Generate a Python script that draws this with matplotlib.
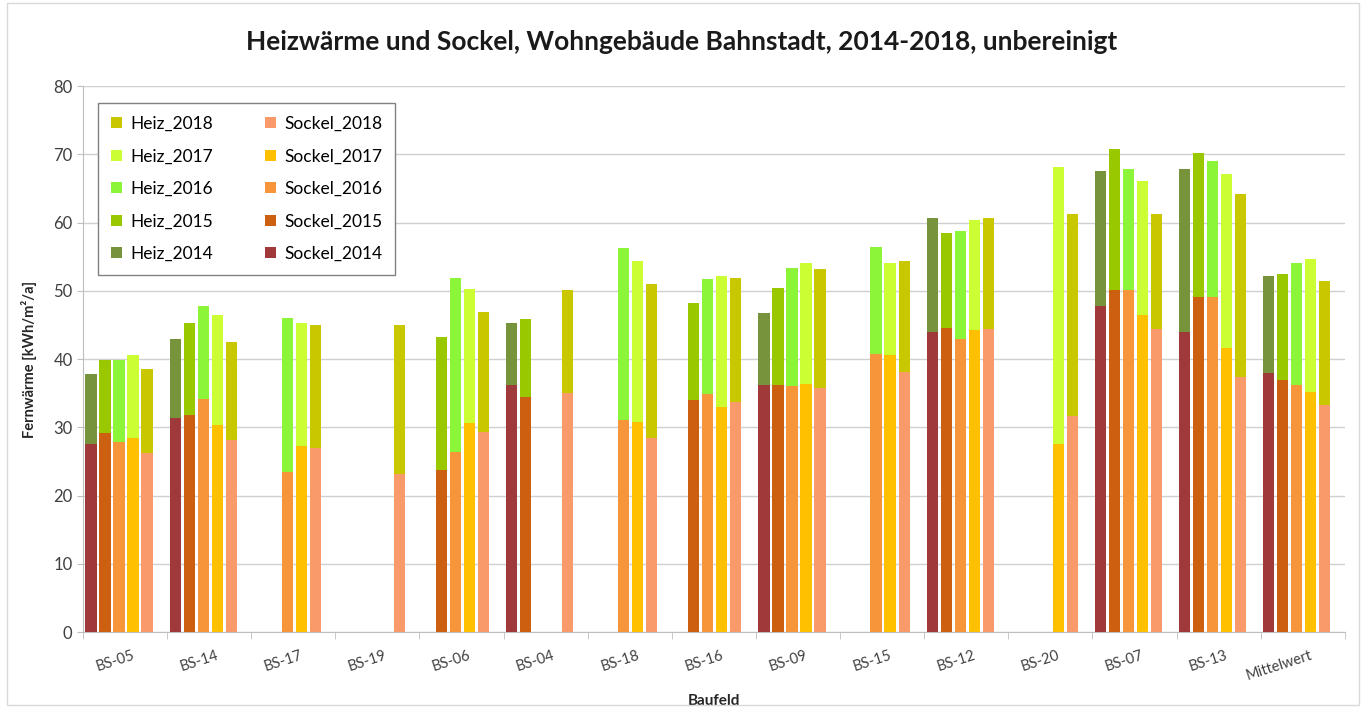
import numpy as np
import matplotlib
matplotlib.use("Agg")
import matplotlib.pyplot as plt
from matplotlib.patches import Rectangle

nan = np.nan

baufeld = ["BS-05", "BS-14", "BS-17", "BS-19", "BS-06", "BS-04", "BS-18", "BS-16",
           "BS-09", "BS-15", "BS-12", "BS-20", "BS-07", "BS-13", "Mittelwert"]
years = [2014, 2015, 2016, 2017, 2018]

# Heizwaerme gesamt (Balkenoberkante) je Jahr
heiz_2014 = [37.8, 43.0, nan, nan, nan, 45.3, nan, nan, 46.7, nan, 60.6, nan, 67.6, 67.9, 52.2]
heiz_2015 = [39.8, 45.3, nan, nan, 43.2, 45.8, nan, 48.2, 50.4, nan, 58.4, nan, 70.7, 70.2, 52.5]
heiz_2016 = [39.8, 47.7, 46.0, nan, 51.8, nan, 56.2, 51.7, 53.3, 56.4, 58.8, nan, 67.9, 69.0, 54.1]
heiz_2017 = [40.6, 46.4, 45.3, nan, 50.2, nan, 54.4, 52.1, 54.1, 54.1, 60.4, 68.1, 66.1, 67.1, 54.6]
heiz_2018 = [38.6, 42.5, 45.0, 45.0, 46.9, 50.1, 51.0, 51.9, 53.2, 54.3, 60.6, 61.2, 61.2, 64.2, 51.5]

# Sockel je Jahr
sockel_2014 = [27.6, 31.3, nan, nan, nan, 36.2, nan, nan, 36.2, nan, 43.9, nan, 47.8, 43.9, 38.0]
sockel_2015 = [29.2, 31.8, nan, nan, 23.7, 34.5, nan, 34.0, 36.2, nan, 44.5, nan, 50.1, 49.1, 37.0]
sockel_2016 = [27.9, 34.1, 23.5, nan, 26.4, nan, 31.0, 34.9, 36.0, 40.8, 42.9, nan, 50.1, 49.1, 36.2]
sockel_2017 = [28.4, 30.3, 27.2, nan, 30.7, nan, 30.8, 33.0, 36.3, 40.6, 44.2, 27.6, 46.4, 41.6, 35.1]
sockel_2018 = [26.2, 28.2, 26.9, 23.2, 29.3, 35.0, 28.4, 33.7, 35.7, 38.1, 44.4, 31.6, 44.4, 37.3, 33.3]

heiz = [heiz_2014, heiz_2015, heiz_2016, heiz_2017, heiz_2018]
sockel = [sockel_2014, sockel_2015, sockel_2016, sockel_2017, sockel_2018]

heiz_colors = ["#77933C", "#99C800", "#8CF53A", "#CCFF33", "#C9C800"]
sockel_colors = ["#A0393A", "#CC6010", "#F7953A", "#FFC000", "#F99A6A"]

slots = 6  # 5 Jahre + Luecke
plt.rcParams["font.family"] = ["Lato", "DejaVu Sans"]

fig = plt.figure(figsize=(13.63, 7.08), dpi=100)
ax = fig.add_axes([0.0609, 0.1073, 0.9257, 0.7712])

grp = np.arange(len(baufeld)) * slots
handles_h, handles_s = [], []
for j, yr in enumerate(years):
    x = grp + j + 0.57
    hb = ax.bar(x, heiz[j], width=0.8, color=heiz_colors[j], zorder=2, label=f"Heiz_{yr}")
    sb = ax.bar(x, sockel[j], width=0.8, color=sockel_colors[j], zorder=3, label=f"Sockel_{yr}")
    handles_h.append(hb)
    handles_s.append(sb)

ax.set_xlim(0, len(baufeld) * slots)
ax.set_ylim(0, 80)
ax.set_yticks(range(0, 81, 10))
ax.yaxis.grid(True, color="#D0D0D0", linewidth=1, zorder=0)
ax.set_axisbelow(True)

ax.set_xticks(grp + 3.8)
ax.set_xticklabels(baufeld, rotation=18, ha="right", fontsize=10.5, color="#404040")
ax.set_xticks(np.arange(0, len(baufeld) * slots + 1, slots), minor=True)
ax.tick_params(axis="x", which="major", length=0, pad=12)
ax.tick_params(axis="x", which="minor", length=5, color="#BFBFBF")
ax.tick_params(axis="y", length=4, color="#BFBFBF", labelsize=12, labelcolor="#404040")

for s in ["top", "right"]:
    ax.spines[s].set_visible(False)
for s in ["left", "bottom"]:
    ax.spines[s].set_color("#BFBFBF")

ax.set_xlabel("Baufeld", fontsize=11, fontweight="bold", color="#262626", labelpad=8)
ax.set_ylabel("Fernwärme [kWh/m²/a]", fontsize=10.5, fontweight="bold", color="#262626", labelpad=12)

fig.suptitle("Heizwärme und Sockel, Wohngebäude Bahnstadt, 2014-2018, unbereinigt",
             fontsize=19, fontweight="bold", color="#1a1a1a", y=0.958)

leg_handles = handles_h[::-1] + handles_s[::-1]
leg = ax.legend(leg_handles, [h.get_label() for h in leg_handles], ncol=2,
                loc="upper left", bbox_to_anchor=(0.012, 0.969), borderaxespad=0,
                fontsize=12.5, frameon=True, fancybox=False, edgecolor="#808080",
                framealpha=1, handlelength=0.6, handleheight=0.6, handletextpad=0.5,
                columnspacing=3.0, labelspacing=0.95, borderpad=0.75)
leg.get_frame().set_linewidth(1)

fig.patches.append(Rectangle((0.005, 0.004), 0.992, 0.992, transform=fig.transFigure,
                             fill=False, edgecolor="#D9D9D9", linewidth=1))

fig.savefig("out.png", dpi=100)
